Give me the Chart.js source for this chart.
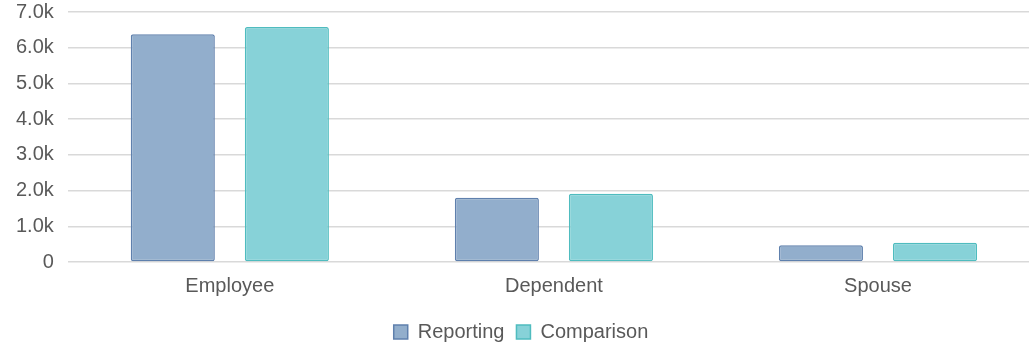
<!DOCTYPE html>
<html>
<head>
<meta charset="utf-8">
<script src="https://cdn.jsdelivr.net/npm/chart.js@4"></script>
<style>
  html, body { margin: 0; padding: 0; background: #fff; overflow: hidden; }
  #wrap { width: 1050px; height: 370px; position: relative; margin-top: -14px; }
</style>
</head>
<body>
<div id="wrap"><canvas id="chart"></canvas></div>
<script>
// Données du graphique
const categories = ['Employee', 'Dependent', 'Spouse'];
const reportingValues = [6380, 1800, 470];
const comparisonValues = [6580, 1910, 540];
const seriesNames = ['Reporting', 'Comparison'];

// Couleurs
const colors = {
    reportingFill: '#92aecc',
    reportingBorder: '#5f80ad',
    comparisonFill: '#87d2d8',
    comparisonBorder: '#4fbcbf',
    grid: '#d9d9d9',
    text: '#595959'
};

const fontFamily = '"Liberation Sans", Arial, sans-serif';

new Chart(document.getElementById('chart'), {
    type: 'bar',
    data: {
        labels: categories,
        datasets: [
            {
                label: seriesNames[0],
                data: reportingValues,
                backgroundColor: colors.reportingFill,
                borderColor: colors.reportingBorder,
                borderWidth: 1.5,
                borderRadius: 2,
                borderSkipped: false,
                categoryPercentage: 0.704,
                barPercentage: 0.737
            },
            {
                label: seriesNames[1],
                data: comparisonValues,
                backgroundColor: colors.comparisonFill,
                borderColor: colors.comparisonBorder,
                borderWidth: 1.5,
                borderRadius: 2,
                borderSkipped: false,
                categoryPercentage: 0.704,
                barPercentage: 0.737
            }
        ]
    },
    options: {
        responsive: true,
        maintainAspectRatio: false,
        animation: false,
        layout: {
            padding: { top: 2, right: 10, left: 2, bottom: 4 }
        },
        plugins: {
            tooltip: { enabled: false },
            legend: {
                display: true,
                position: 'bottom',
                labels: {
                    boxWidth: 14,
                    boxHeight: 14,
                    padding: 12,
                    color: colors.text,
                    font: { family: fontFamily, size: 20 }
                }
            }
        },
        scales: {
            x: {
                grid: { display: false, drawTicks: false },
                border: { display: false },
                ticks: {
                    color: colors.text,
                    padding: 12,
                    font: { family: fontFamily, size: 20 }
                }
            },
            y: {
                min: 0,
                max: 7000,
                grid: { color: colors.grid, lineWidth: 1.5, drawTicks: false },
                border: { display: false },
                ticks: {
                    stepSize: 1000,
                    padding: 14,
                    color: colors.text,
                    font: { family: fontFamily, size: 20 },
                    callback: v => v === 0 ? '0' : (v / 1000).toFixed(1) + 'k'
                }
            }
        }
    }
});
</script>
</body>
</html>
